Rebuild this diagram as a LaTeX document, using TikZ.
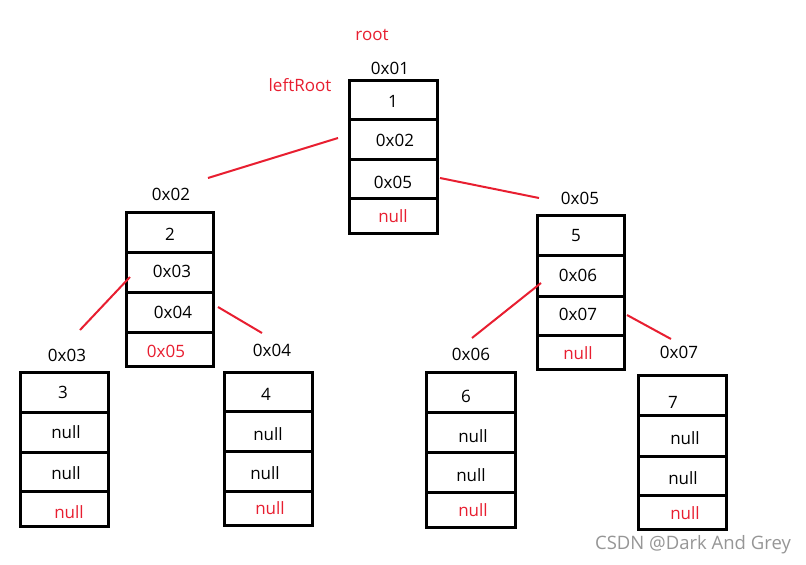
\documentclass[tikz,border=0pt]{standalone}
\usepackage{fontspec}
\setmainfont{Open Sans}
\definecolor{linkred}{RGB}{232,30,48}
\definecolor{wmgrey}{RGB}{150,150,150}
\begin{document}
\begin{tikzpicture}[x=1pt,y=-1pt,
  boxline/.style={line width=3pt,line cap=rect},
  link/.style={draw=linkred,line width=2pt},
  txt/.style={font=\fontsize{17}{19}\selectfont,inner sep=0pt,text=black},
  rtxt/.style={txt,text=linkred},
  wm/.style={font=\fontsize{18.5}{20}\selectfont,inner sep=0pt,text=wmgrey}]
\useasboundingbox[fill=white] (0,0) rectangle (806,565);

% ---------- root node (0x01)
\draw[boxline] (349,80) rectangle (437,233);
\draw[boxline] (349,119) -- (437,119) (349,159) -- (437,159) (349,198) -- (437,198);
\node[rtxt] (rootlbl) at (372,35) {root};
\node[txt] (a01) at (390,68) {0x01};
\node[rtxt] (leftroot) at (300,85) {leftRoot};
\node[txt] (n1v) at (393,101) {1};
\node[txt] (n1l) at (395,140) {0x02};
\node[txt] (n1r) at (393,182) {0x05};
\node[rtxt] (n1p) at (393,216) {null};

% ---------- node 2 (0x02)
\draw[boxline] (126,212) rectangle (213,366);
\draw[boxline] (126,252) -- (213,252) (126,292) -- (213,292) (126,332) -- (213,332);
\node[txt] (a02) at (171,194) {0x02};
\node[txt] (n2v) at (170,234) {2};
\node[txt] (n2l) at (172,271) {0x03};
\node[txt] (n2r) at (173,312) {0x04};
\node[rtxt] (n2p) at (166,351) {0x05};

% ---------- node 5 (0x05)
\draw[boxline] (537,215) rectangle (624,369);
\draw[boxline] (537,255) -- (624,255) (537,296) -- (624,296) (537,335) -- (624,335);
\node[txt] (a05) at (580,198) {0x05};
\node[txt] (n5v) at (576,236) {5};
\node[txt] (n5l) at (578,275) {0x06};
\node[txt] (n5r) at (578,314) {0x07};
\node[rtxt] (n5p) at (578,353) {null};

% ---------- node 3 (0x03)
\draw[boxline] (20,372) rectangle (108,526);
\draw[boxline] (20,412) -- (108,412) (20,452) -- (108,452) (20,491) -- (108,491);
\node[txt] (a03) at (67,355) {0x03};
\node[txt] (n3v) at (63,392) {3};
\node[txt] (n3l) at (66,432) {null};
\node[txt] (n3r) at (66,473) {null};
\node[rtxt] (n3p) at (69,512) {null};

% ---------- node 4 (0x04)
\draw[boxline] (224,372) rectangle (312,525);
\draw[boxline] (224,411) -- (312,411) (224,451) -- (312,451) (224,491) -- (312,491);
\node[txt] (a04) at (272,350) {0x04};
\node[txt] (n4v) at (266,394) {4};
\node[txt] (n4l) at (268,434) {null};
\node[txt] (n4r) at (265,473) {null};
\node[rtxt] (n4p) at (270,508) {null};

% ---------- node 6 (0x06)
\draw[boxline] (426,372) rectangle (515,527);
\draw[boxline] (426,412) -- (515,412) (426,452) -- (515,452) (426,492) -- (515,492);
\node[txt] (a06) at (471,354) {0x06};
\node[txt] (n6v) at (466,396) {6};
\node[txt] (n6l) at (473,436) {null};
\node[txt] (n6r) at (471,475) {null};
\node[rtxt] (n6p) at (473,510) {null};

% ---------- node 7 (0x07)
\draw[boxline] (638,375) rectangle (726,529);
\draw[boxline] (638,415) -- (726,415) (638,456) -- (726,456) (638,495) -- (726,495);
\node[txt] (a07) at (679,352) {0x07};
\node[txt] (n7v) at (673,402) {7};
\node[txt] (n7l) at (685,438) {null};
\node[txt] (n7r) at (683,478) {null};
\node[rtxt] (n7p) at (685,513) {null};

% ---------- red links
\coordinate (l1s) at (338,138); \coordinate (l1e) at (208,178);
\coordinate (r1s) at (440,178); \coordinate (r1e) at (539,198);
\coordinate (l2s) at (130,277); \coordinate (l2e) at (80,330);
\coordinate (r2s) at (218,307); \coordinate (r2e) at (262,333);
\coordinate (l5s) at (541,283); \coordinate (l5e) at (472,338);
\coordinate (r5s) at (627,315); \coordinate (r5e) at (671,339);
\draw[link] (l1s) -- (l1e);
\draw[link] (r1s) -- (r1e);
\draw[link] (l2s) -- (l2e);
\draw[link] (r2s) -- (r2e);
\draw[link] (l5s) -- (l5e);
\draw[link] (r5s) -- (r5e);

% ---------- watermark
\node[wm] (mark) at (693,545) {CSDN @Dark And Grey};
\end{tikzpicture}
\end{document}
